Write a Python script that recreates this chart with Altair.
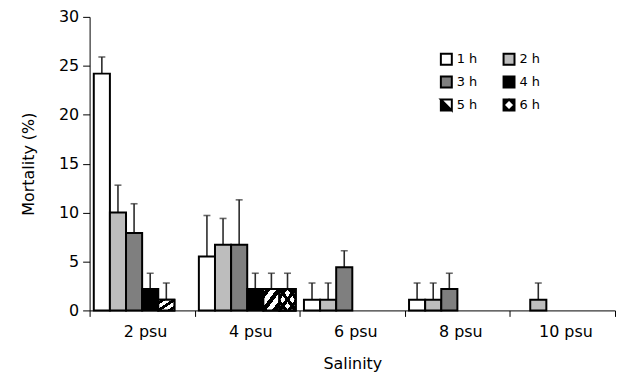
import altair as alt
import pandas as pd

# ---- data ----
salinity = ["2 psu", "4 psu", "6 psu", "8 psu", "10 psu"]
hours = ["1 h", "2 h", "3 h", "4 h", "5 h", "6 h"]

bar_sal = ["2 psu", "2 psu", "2 psu", "2 psu", "2 psu",
           "4 psu", "4 psu", "4 psu", "4 psu", "4 psu", "4 psu",
           "6 psu", "6 psu", "6 psu",
           "8 psu", "8 psu", "8 psu",
           "10 psu"]
bar_hour = ["1 h", "2 h", "3 h", "4 h", "5 h",
            "1 h", "2 h", "3 h", "4 h", "5 h", "6 h",
            "1 h", "2 h", "3 h",
            "1 h", "2 h", "3 h",
            "2 h"]
mortality = [24.2, 10.0, 7.9, 2.2, 1.1,
             5.5, 6.7, 6.7, 2.2, 2.2, 2.2,
             1.1, 1.1, 4.4,
             1.1, 1.1, 2.2,
             1.1]
error = [1.7, 2.8, 3.0, 1.6, 1.7,
         4.2, 2.7, 4.6, 1.6, 1.6, 1.6,
         1.7, 1.7, 1.7,
         1.7, 1.7, 1.6,
         1.7]

fills = ["white", "#bdbdbd", "#7f7f7f", "black", "black", "black"]
shapes = ["square", "square", "square", "square",
          "M-1,-1H1V1H-1Z M-1,-1L1,1L1,-1Z",
          "M-1,-1H1V1H-1Z M0,-1L-1,0L0,1L1,0Z"]

df = pd.DataFrame({"sal": bar_sal, "hour": bar_hour, "val": mortality, "err": error})
df["hi"] = df["val"] + df["err"]

FONT = "DejaVu Sans"

legend = alt.Legend(title=None, orient="none", legendX=352, legendY=36, columns=2,
                    direction="horizontal",
                    symbolSize=121, symbolStrokeColor="black", symbolStrokeWidth=2,
                    labelFont=FONT, labelFontSize=13, labelColor="black",
                    labelOffset=4, columnPadding=22, rowPadding=4, padding=0)

x_enc = alt.X("sal:N", sort=salinity, scale=alt.Scale(domain=salinity, paddingInner=0, paddingOuter=0),
              axis=alt.Axis(title="Salinity", labelAngle=0, tickBand="extent", tickSize=6,
                            labelPadding=7, labelOffset=3, titlePadding=16, labelFont=FONT,
                            labelFontSize=16, titleFont=FONT, titleFontSize=16,
                            titleFontWeight="normal", labelColor="black", titleColor="black",
                            domainColor="black", tickColor="black"))
xo_enc = alt.XOffset("hour:N", sort=hours,
                     scale=alt.Scale(domain=hours, paddingInner=0, paddingOuter=0.26))
y_enc = alt.Y("val:Q", scale=alt.Scale(domain=[0, 30], nice=False),
              axis=alt.Axis(title="Mortality (%)", values=[0, 5, 10, 15, 20, 25, 30], grid=False,
                            tickSize=7, labelPadding=4, titlePadding=22, labelFont=FONT,
                            labelFontSize=16, titleFont=FONT, titleFontSize=16,
                            titleFontWeight="normal", labelColor="black", titleColor="black",
                            domainColor="black", tickColor="black"))
fill_enc = alt.Fill("hour:N", sort=hours, scale=alt.Scale(domain=hours, range=fills), legend=legend)
shape_enc = alt.Shape("hour:N", sort=hours, scale=alt.Scale(domain=hours, range=shapes), legend=legend)

base = alt.Chart(df)

bars = base.mark_bar(stroke="black", strokeWidth=2).encode(
    x=x_enc, xOffset=xo_enc, y=y_enc, fill=fill_enc)

def stops(pairs):
    return [alt.GradientStop(color=c, offset=o) for o, c in pairs]

stripe_fwd = alt.LinearGradient(gradient="linear", x1=0, y1=0, x2=1, y2=1, stops=stops([
    (0, "white"), (0.08, "white"), (0.08, "black"), (0.24, "black"), (0.24, "white"),
    (0.42, "white"), (0.42, "black"), (0.58, "black"), (0.58, "white"),
    (0.76, "white"), (0.76, "black"), (0.92, "black"), (0.92, "white"), (1, "white")]))

hatch_a = alt.LinearGradient(gradient="linear", x1=0, y1=0, x2=1, y2=1, stops=stops([
    (0, "white"), (0.15, "white"), (0.15, "black"), (0.27, "black"), (0.27, "white"),
    (0.44, "white"), (0.44, "black"), (0.56, "black"), (0.56, "white"),
    (0.73, "white"), (0.73, "black"), (0.85, "black"), (0.85, "white"), (1, "white")]))
hatch_b = alt.LinearGradient(gradient="linear", x1=1, y1=0, x2=0, y2=1, stops=stops([
    (0, "rgba(0,0,0,0)"), (0.15, "rgba(0,0,0,0)"), (0.15, "black"), (0.27, "black"),
    (0.27, "rgba(0,0,0,0)"), (0.44, "rgba(0,0,0,0)"), (0.44, "black"), (0.56, "black"),
    (0.56, "rgba(0,0,0,0)"), (0.73, "rgba(0,0,0,0)"), (0.73, "black"), (0.85, "black"),
    (0.85, "rgba(0,0,0,0)"), (1, "rgba(0,0,0,0)")]))

five = base.transform_filter(alt.datum.hour == "5 h").mark_bar(
    fill=stripe_fwd, stroke="black", strokeWidth=2).encode(x=x_enc, xOffset=xo_enc, y=y_enc)
six_a = base.transform_filter(alt.datum.hour == "6 h").mark_bar(
    fill=hatch_a, stroke="black", strokeWidth=2).encode(x=x_enc, xOffset=xo_enc, y=y_enc)
six_b = base.transform_filter(alt.datum.hour == "6 h").mark_bar(
    fill=hatch_b, stroke="black", strokeWidth=2).encode(x=x_enc, xOffset=xo_enc, y=y_enc)

keys = base.mark_point(filled=True, size=0, opacity=1).encode(
    x=x_enc, xOffset=xo_enc, y=y_enc, fill=fill_enc, shape=shape_enc)

rules = base.mark_rule(color="#2b2b2b", strokeWidth=1.6).encode(
    x=x_enc, xOffset=xo_enc, y=y_enc, y2="hi:Q")
caps = base.mark_tick(color="#2b2b2b", thickness=1.6, size=7).encode(
    x=x_enc, xOffset=xo_enc, y=alt.Y("hi:Q"))

chart = alt.layer(rules, caps, bars, five, six_a, six_b, keys).properties(
    width=528, height=295,
    autosize=alt.AutoSizeParams(type="none"),
    padding={"left": 82, "top": 8, "right": 2, "bottom": 67},
).configure_view(stroke=None).configure_axis(domainWidth=1, tickWidth=1)

chart.save("out.html", embed_options={"renderer": "svg", "actions": False})
